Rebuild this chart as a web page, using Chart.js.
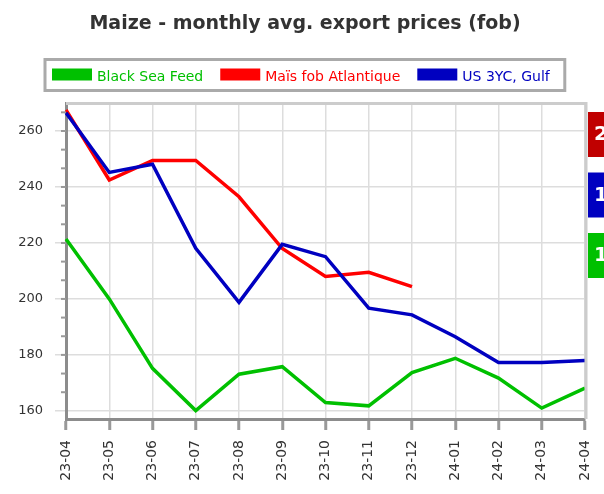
<!DOCTYPE html>
<html lang="en">
<head>
    <meta charset="UTF-8">
    <title>Maize - monthly avg. export prices (fob)</title>
    <script src="https://cdn.jsdelivr.net/npm/chart.js"></script>
    <style>
        body {
            margin: 0;
            background: #ffffff;
        }
        #wrap {
            width: 604px;
            height: 494px;
        }
    </style>
</head>
<body>
    <div id="wrap">
        <canvas id="chart" width="604" height="494"></canvas>
    </div>

    <script>
        const months = ["23-04", "23-05", "23-06", "23-07", "23-08", "23-09", "23-10",
                        "23-11", "23-12", "24-01", "24-02", "24-03", "24-04"];
        const blackSeaFeed = [221.4, 200.0, 175.2, 160.1, 173.1, 175.8, 163.0, 161.8, 173.7, 178.8, 171.7, 161.0, 168.1];
        const maisAtlantique = [267.5, 242.5, 249.5, 249.5, 236.5, 218.0, 208.0, 209.5, 204.4, null, null, null, null];
        const usGulf = [266.5, 245.2, 248.1, 218.1, 198.8, 219.5, 215.1, 196.7, 194.3, 186.5, 177.3, 177.3, 178.0];
        const yTicks = [160, 180, 200, 220, 240, 260];
        const chartTitle = "Maize - monthly avg. export prices (fob)";

        const FONT = '"DejaVu Sans", Verdana, sans-serif';

        // title + legend drawn in a box, like the original
        const header = {
            id: "header",
            afterDraw(chart) {
                const ctx = chart.ctx;
                ctx.save();
                ctx.fillStyle = "#333333";
                ctx.font = "bold 19px " + FONT;
                ctx.textAlign = "center";
                ctx.textBaseline = "alphabetic";
                ctx.fillText(chartTitle, 305, 29);

                ctx.textAlign = "left";
                ctx.font = "14px " + FONT;
                let x = 52;
                chart.data.datasets.forEach((ds, i) => {
                    ctx.fillStyle = ds.borderColor;
                    ctx.fillRect(x, 68.5, 40, 12);
                    x += 45;
                    ctx.fillText(ds.label, x, 81);
                    x += ctx.measureText(ds.label).width;
                    if (i < chart.data.datasets.length - 1) x += 17;
                });
                ctx.strokeStyle = "#aaaaaa";
                ctx.lineWidth = 3;
                ctx.strokeRect(45, 59.5, x + 15 - 45, 31);
                ctx.restore();
            }
        };

        // frame, minor ticks and last-value tags on the right
        const extras = {
            id: "extras",
            afterDatasetsDraw(chart) {
                const ctx = chart.ctx;
                const a = chart.chartArea;
                const y = chart.scales.y;
                ctx.save();
                ctx.strokeStyle = "#cccccc";
                ctx.lineWidth = 3;
                ctx.beginPath();
                ctx.moveTo(a.left, a.top + 0.5);
                ctx.lineTo(a.right + 1, a.top + 0.5);
                ctx.lineTo(a.right + 1, a.bottom);
                ctx.stroke();

                ctx.strokeStyle = "#999999";
                ctx.lineWidth = 2;
                const step = (yTicks[1] - yTicks[0]) / 3;
                for (let v = yTicks[0]; v < y.max; v += step) {
                    if (Math.abs((v - yTicks[0]) % (step * 3)) < 0.01) continue;
                    const py = y.getPixelForValue(v);
                    ctx.beginPath();
                    ctx.moveTo(a.left - 5, py);
                    ctx.lineTo(a.left, py);
                    ctx.stroke();
                }

                const tagColors = { "Maïs fob Atlantique": "#c00000", "US 3YC, Gulf": "#0000c0", "Black Sea Feed": "#00c000" };
                const last = chart.data.datasets.map(ds => {
                    const vals = ds.data.filter(v => v !== null);
                    return { label: ds.label, value: vals[vals.length - 1] };
                }).sort((p, q) => q.value - p.value);
                ctx.font = "bold 20px " + FONT;
                ctx.textBaseline = "middle";
                last.forEach((item, i) => {
                    const top = 112 + i * 60.5;
                    ctx.fillStyle = tagColors[item.label];
                    ctx.fillRect(a.right + 3, top, 40, 45);
                    ctx.fillStyle = "#ffffff";
                    ctx.fillText(Math.round(item.value), a.right + 9, top + 23);
                });
                ctx.restore();
            }
        };

        const lineStyle = { borderWidth: 3.5, pointRadius: 0, tension: 0, fill: false, spanGaps: false };

        new Chart(document.getElementById("chart"), {
            type: "line",
            data: {
                labels: months,
                datasets: [
                    { label: "Black Sea Feed", data: blackSeaFeed, borderColor: "#00c000", order: 2, ...lineStyle },
                    { label: "Maïs fob Atlantique", data: maisAtlantique, borderColor: "#ff0000", order: 1, ...lineStyle },
                    { label: "US 3YC, Gulf", data: usGulf, borderColor: "#0000c0", order: 0, ...lineStyle }
                ]
            },
            options: {
                responsive: false,
                animation: false,
                layout: { padding: { top: 103, right: 19, left: 0, bottom: 0 } },
                plugins: {
                    legend: { display: false },
                    tooltip: { enabled: false },
                    title: { display: false }
                },
                scales: {
                    x: {
                        grid: { color: "#dddddd", lineWidth: 1.5, tickColor: "#999999", tickWidth: 3, tickLength: 11 },
                        border: { color: "#8c8c8c", width: 3 },
                        ticks: {
                            color: "#333333",
                            font: { family: FONT, size: 14 },
                            minRotation: 90,
                            maxRotation: 90,
                            padding: 10,
                            autoSkip: false
                        },
                        afterFit(scale) {
                            scale.height = 75;
                            scale.paddingLeft = 0;
                            scale.paddingRight = 0;
                        }
                    },
                    y: {
                        min: 157.1,
                        max: 270,
                        grid: { color: "#dddddd", lineWidth: 1.5, tickColor: "#dddddd", tickLength: 11 },
                        border: { color: "#8c8c8c", width: 3 },
                        ticks: {
                            color: "#333333",
                            font: { family: FONT, size: 13 },
                            padding: 12
                        },
                        afterBuildTicks(scale) {
                            scale.ticks = yTicks.map(v => ({ value: v }));
                        },
                        afterFit(scale) {
                            scale.width = 66;
                            scale.paddingTop = 0;
                            scale.paddingBottom = 0;
                        }
                    }
                }
            },
            plugins: [header, extras]
        });
    </script>
</body>
</html>
